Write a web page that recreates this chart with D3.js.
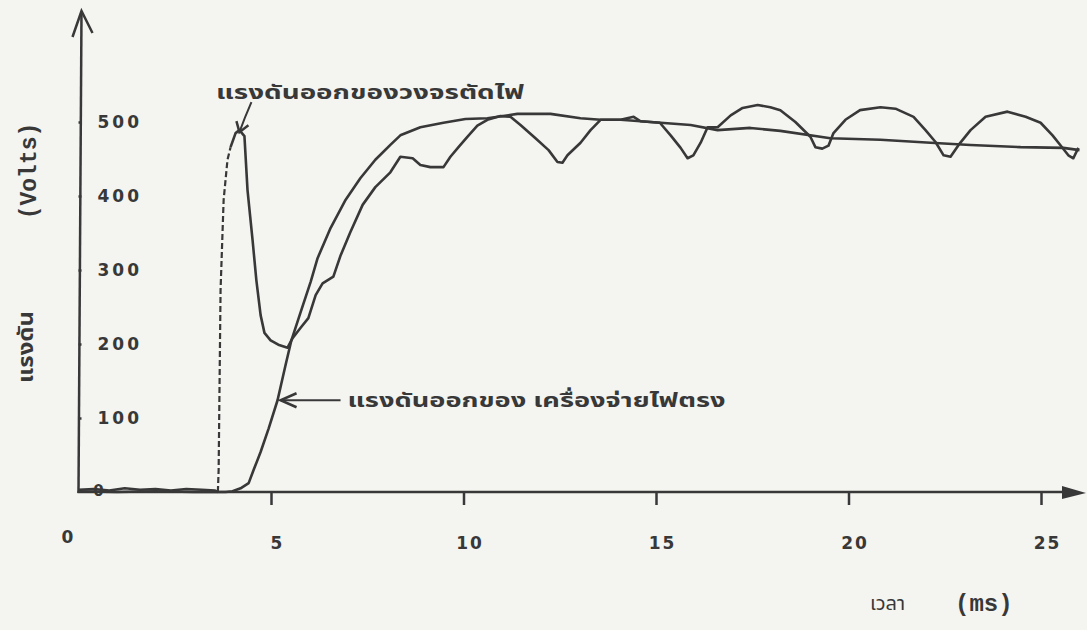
<!DOCTYPE html>
<html>
<head>
<meta charset="utf-8">
<script src="https://cdn.jsdelivr.net/npm/d3@7"></script>
<style>
  body { margin: 0; background: #f4f4f1; }
  svg { display: block; }
</style>
</head>
<body>
<script>
//Width and height
var w = 1087;
var h = 630;

// tick values
var xTicks = [5, 10, 15, 20, 25];
var yTicks = [100, 200, 300, 400, 500];

// output of the cut-off circuit (spike, then ripple), time in ms, volts
var tRipple = [0, 0.4, 0.8, 1.2, 1.6, 2.0, 2.4, 2.8, 3.2, 3.55, 3.62, 3.64, 3.69, 3.77, 3.87, 3.95,
  4.08, 4.18, 4.31, 4.39, 4.52, 4.62, 4.73, 4.83, 4.99, 5.19, 5.43, 5.56, 5.77, 5.97, 6.16, 6.34,
  6.62, 6.81, 7.06, 7.38, 7.71, 8.1, 8.36, 8.68, 8.88, 9.14, 9.48, 9.66, 9.87, 10.1, 10.36, 10.62,
  10.96, 11.22, 11.48, 11.87, 12.21, 12.44, 12.57, 12.7, 13.04, 13.3, 13.56, 14.08, 14.6, 15.1,
  15.38, 15.64, 15.82, 15.97, 16.16, 16.34, 16.6, 16.94, 17.25, 17.64, 17.97, 18.23, 18.62, 19.01,
  19.14, 19.32, 19.48, 19.61, 19.92, 20.3, 20.83, 21.22, 21.69, 22.0, 22.26, 22.47, 22.65, 22.86,
  23.17, 23.56, 24.13, 24.6, 24.99, 25.3, 25.5, 25.71, 25.84, 25.97];
var vRipple = [3, 4, 2, 5, 3, 4, 2, 4, 3, 2, 0, 30, 273, 395, 449, 466,
  485, 489, 481, 408, 341, 286, 239, 215, 205, 199, 195, 208, 222, 235, 266, 282,
  291, 320, 351, 388, 412, 432, 453, 451, 442, 439, 439, 453, 466, 480, 495, 503,
  508, 507, 496, 478, 462, 446, 445, 455, 472, 489, 503, 503, 501, 499,
  482, 465, 451, 455, 472, 493, 493, 509, 519, 523, 520, 516, 500, 480,
  466, 464, 468, 485, 503, 516, 520, 518, 507, 489, 473, 455, 453, 469,
  489, 507, 514, 507, 499, 482, 469, 455, 451, 465];

// output of the DC supply
var tDc = [0, 1, 2, 3, 3.82, 4.0, 4.21, 4.42, 4.55, 4.73, 4.94, 5.17, 5.38, 5.53, 5.77, 6.03,
  6.21, 6.55, 6.94, 7.32, 7.71, 8.1, 8.36, 8.88, 9.48, 10.05, 10.62, 11.4, 12.26, 13.04, 13.56,
  14.08, 14.42, 14.6, 15.12, 15.9, 16.6, 17.45, 18.23, 19.53, 20.83, 22.13, 23.17, 24.47, 25.58, 26.0];
var vDc = [1, 0, 1, 0, 0, 1, 5, 12, 30, 54, 86, 124, 172, 205, 243, 284,
  316, 357, 395, 424, 449, 469, 482, 493, 499, 504, 505, 511, 511, 505, 503,
  503, 507, 501, 499, 496, 489, 492, 488, 478, 476, 472, 469, 466, 465, 462];

// fast rising edge of the spike shows up dashed on the trace
var riseStart = 3.62, riseEnd = 3.95;

var ink = "#383838";
var numFont = "'DejaVu Sans', sans-serif";
var thai = "'Noto Sans Thai', 'Loma', 'Garuda', 'Tlwg Typo', sans-serif";

var x = d3.scaleLinear().domain([0, 25]).range([78.5, 1041]);
var y = d3.scaleLinear().domain([0, 500]).range([492, 122]);

var svg = d3.select("body").append("svg")
  .attr("width", w)
  .attr("height", h);

var ripple = tRipple.map(function(t, i) { return [t, vRipple[i]]; });
var dc = tDc.map(function(t, i) { return [t, vDc[i]]; });

var line = d3.line()
  .x(function(d) { return x(d[0]); })
  .y(function(d) { return y(d[1]); });

//axes lines with arrows
svg.append("line")
  .attr("x1", x(0)).attr("y1", y(0) + 1)
  .attr("x2", x(0) + 3).attr("y2", 12)
  .attr("stroke", ink).attr("stroke-width", 2.5);
svg.append("path")
  .attr("d", "M" + (x(0) - 6) + ",37 L" + (x(0) + 3) + ",11 L" + (x(0) + 14) + ",33")
  .attr("fill", "none").attr("stroke", ink).attr("stroke-width", 2.5);

svg.append("line")
  .attr("x1", x(0) - 1).attr("y1", y(0))
  .attr("x2", 1070).attr("y2", y(0))
  .attr("stroke", ink).attr("stroke-width", 2.5);
svg.append("path")
  .attr("d", "M1062," + (y(0) - 6) + " L1086," + (y(0) + 1) + " L1062," + (y(0) + 7) + "Z")
  .attr("fill", ink);

//x axis ticks
var gx = svg.append("g")
  .attr("transform", "translate(0," + y(0) + ")")
  .call(d3.axisBottom(x).tickValues(xTicks).tickSize(13).tickSizeOuter(0));
gx.select(".domain").remove();
gx.selectAll("line").attr("stroke", ink).attr("stroke-width", 2.5);
gx.selectAll("text")
  .attr("y", 51).attr("dy", "0.35em").attr("dx", 6)
  .attr("fill", ink)
  .style("font-family", numFont)
  .style("font-size", "17px")
  .style("font-weight", "bold")
  .style("letter-spacing", "2px");

svg.append("text")
  .attr("x", x(0) - 11).attr("y", 537).attr("dy", "0.35em")
  .attr("text-anchor", "middle")
  .attr("fill", ink)
  .style("font-family", numFont)
  .style("font-size", "17px")
  .style("font-weight", "bold")
  .text("0");

//y axis ticks, labels on the right of the axis
var gy = svg.append("g")
  .attr("transform", "translate(" + x(0) + ",0)")
  .call(d3.axisLeft(y).tickValues(yTicks).tickSize(12).tickSizeOuter(0));
gy.select(".domain").remove();
gy.selectAll("line").attr("x2", 3).attr("stroke", ink).attr("stroke-width", 2.5);
gy.selectAll("text")
  .attr("x", 19).attr("text-anchor", "start")
  .attr("fill", ink)
  .style("font-family", numFont)
  .style("font-size", "17px")
  .style("font-weight", "bold")
  .style("letter-spacing", "3px");

// small zero at the origin, mostly covered by the trace
svg.append("text")
  .attr("x", x(0) + 20).attr("y", y(0) + 4)
  .attr("text-anchor", "middle")
  .attr("fill", ink)
  .style("font-family", numFont)
  .style("font-size", "15px")
  .style("font-weight", "bold")
  .text("0");

//traces
svg.append("path")
  .datum(dc)
  .attr("d", line)
  .attr("fill", "none").attr("stroke", ink).attr("stroke-width", 2.6)
  .attr("stroke-linejoin", "round");

svg.append("path")
  .datum(ripple.filter(function(d) { return d[0] <= riseStart; }))
  .attr("d", line)
  .attr("fill", "none").attr("stroke", ink).attr("stroke-width", 2.6)
  .attr("stroke-linejoin", "round");
svg.append("path")
  .datum(ripple.filter(function(d) { return d[0] >= riseStart && d[0] <= riseEnd; }))
  .attr("d", line)
  .attr("fill", "none").attr("stroke", ink).attr("stroke-width", 2.2)
  .attr("stroke-dasharray", "6,3");
svg.append("path")
  .datum(ripple.filter(function(d) { return d[0] >= riseEnd; }))
  .attr("d", line)
  .attr("fill", "none").attr("stroke", ink).attr("stroke-width", 2.6)
  .attr("stroke-linejoin", "round");

//axis titles
svg.append("text")
  .attr("transform", "translate(36,171) rotate(-90)")
  .attr("text-anchor", "middle")
  .attr("fill", ink)
  .style("font-family", "'Liberation Mono', monospace")
  .style("font-size", "23px")
  .style("font-weight", "bold")
  .text("(Volts)");

svg.append("text")
  .attr("transform", "translate(33,347) rotate(-90)")
  .attr("text-anchor", "middle")
  .attr("fill", ink)
  .attr("textLength", 72).attr("lengthAdjust", "spacingAndGlyphs")
  .style("font-family", thai)
  .style("font-size", "21px")
  .style("font-weight", "bold")
  .text("แรงดัน");

svg.append("text")
  .attr("x", 870).attr("y", 610)
  .attr("fill", ink)
  .style("font-family", thai)
  .style("font-size", "20px")
  .text("เวลา");
svg.append("text")
  .attr("x", 955).attr("y", 611)
  .attr("fill", ink)
  .style("font-family", "'Liberation Mono', monospace")
  .style("font-size", "24px")
  .style("font-weight", "bold")
  .text("(ms)");

//annotations
// arrow to the top of the spike (largest value before 5 ms)
var peak = ripple.filter(function(d) { return d[0] < 5; })
  .reduce(function(a, b) { return b[1] > a[1] ? b : a; });
var px = x(peak[0]), py = y(peak[1]) + 2;

svg.append("text")
  .attr("x", 216).attr("y", 99)
  .attr("fill", ink)
  .attr("textLength", 308).attr("lengthAdjust", "spacingAndGlyphs")
  .style("font-family", thai)
  .style("font-size", "19px")
  .style("font-weight", "bold")
  .text("แรงดันออกของวงจรตัดไฟ");
svg.append("path")
  .attr("d", "M" + (px + 12) + "," + (py - 30) + " Q" + (px + 5) + "," + (py - 14) + " " + px + "," + py)
  .attr("fill", "none").attr("stroke", ink).attr("stroke-width", 2);
svg.append("path")
  .attr("d", "M" + (px - 3) + "," + (py - 11) + " L" + px + "," + py + " L" + (px + 9) + "," + (py - 7))
  .attr("fill", "none").attr("stroke", ink).attr("stroke-width", 2.5);

// arrow to the DC curve near 124 V
var dcMark = dc[11];
var ax = x(dcMark[0]) + 3, ay = y(dcMark[1]);
svg.append("line")
  .attr("x1", ax).attr("y1", ay).attr("x2", ax + 60).attr("y2", ay)
  .attr("stroke", ink).attr("stroke-width", 2);
svg.append("path")
  .attr("d", "M" + (ax + 16) + "," + (ay - 7) + " L" + ax + "," + ay + " L" + (ax + 16) + "," + (ay + 7))
  .attr("fill", "none").attr("stroke", ink).attr("stroke-width", 2.5);
svg.append("text")
  .attr("x", ax + 67).attr("y", ay + 7)
  .attr("fill", ink)
  .attr("textLength", 378).attr("lengthAdjust", "spacingAndGlyphs")
  .style("font-family", thai)
  .style("font-size", "19px")
  .style("font-weight", "bold")
  .text("แรงดันออกของ เครื่องจ่ายไฟตรง");
</script>
</body>
</html>
